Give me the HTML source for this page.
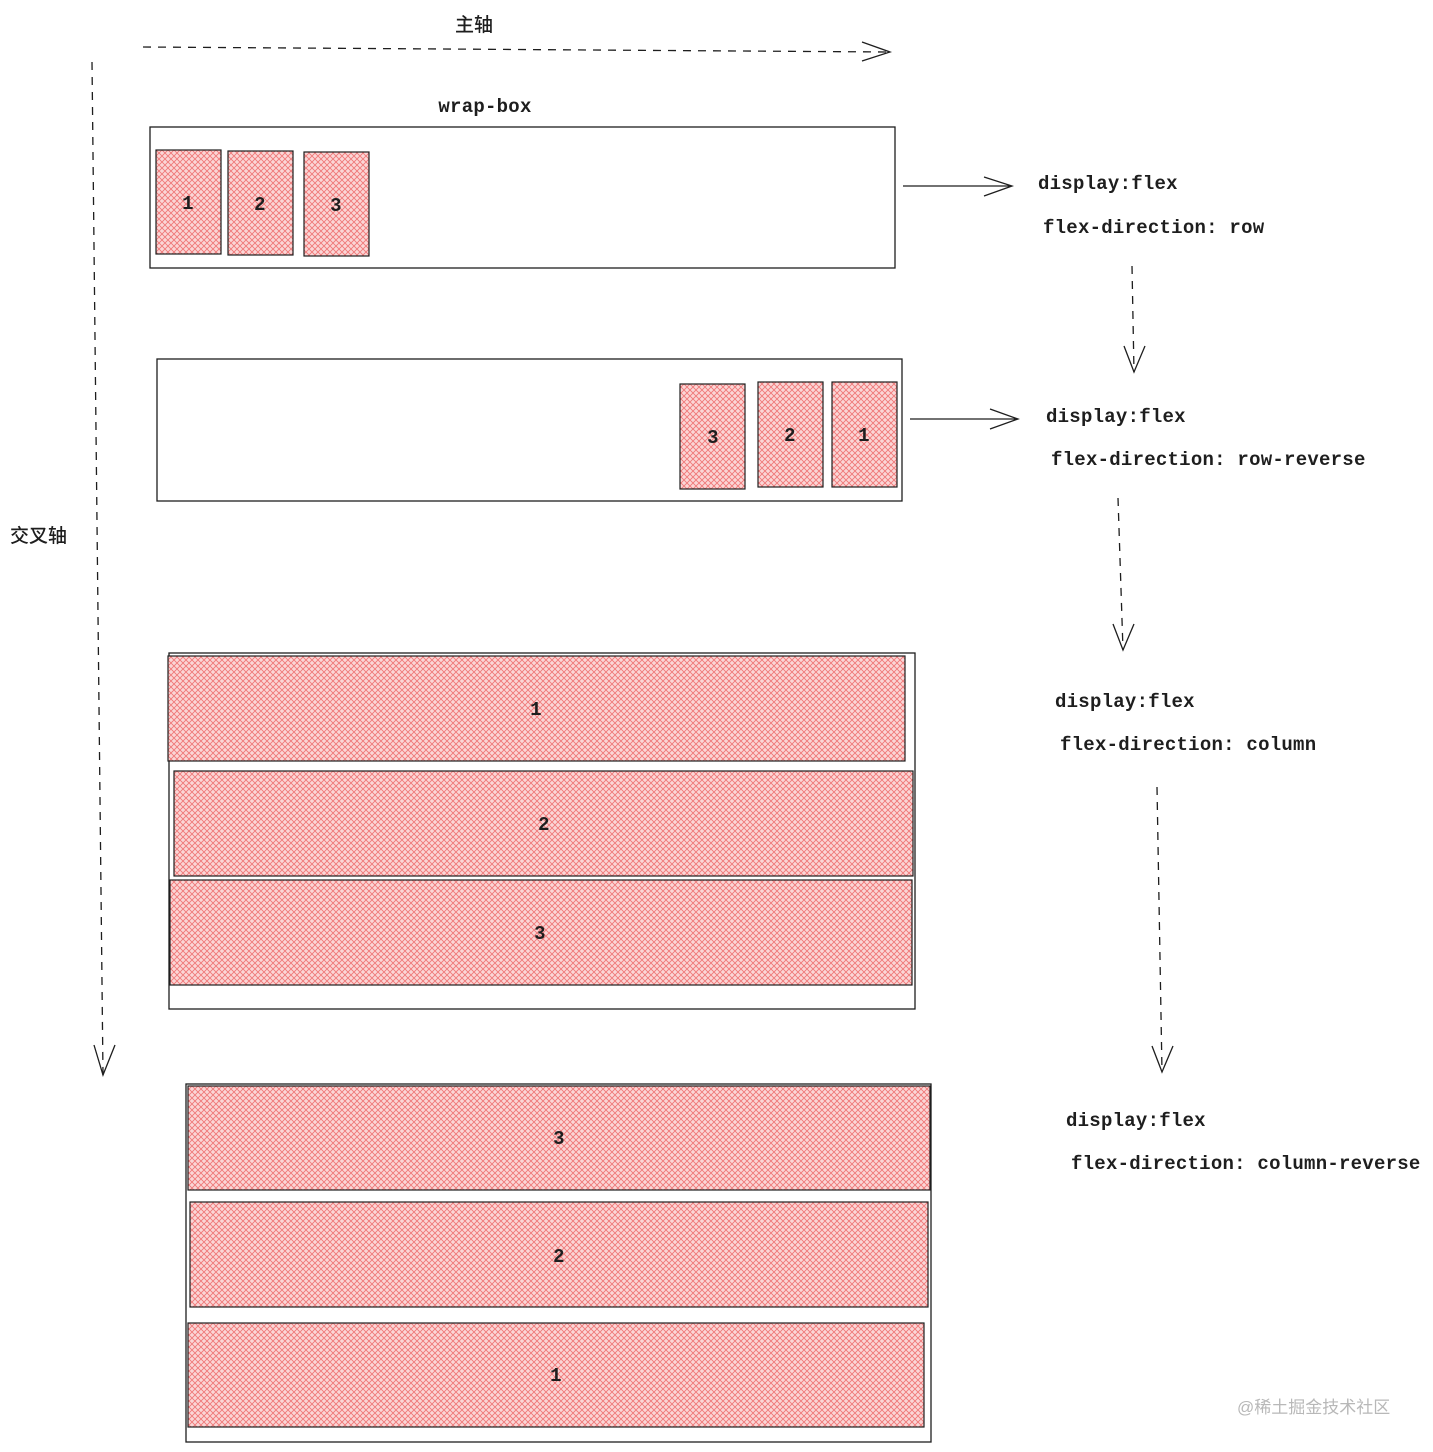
<!DOCTYPE html>
<html><head><meta charset="utf-8"><style>
html,body{margin:0;padding:0;background:#fff;}
svg{display:block}
text{font-family:"Liberation Mono","Noto Sans CJK SC",monospace;font-size:19px;fill:#1e1e1e;font-weight:bold;letter-spacing:0.25px;}
.cj{font-family:"Liberation Sans","Noto Sans CJK SC",sans-serif;font-weight:500;letter-spacing:0;}
</style></head><body>
<svg width="1433" height="1452" viewBox="0 0 1433 1452" xmlns="http://www.w3.org/2000/svg">
<defs>
<pattern id="h" width="6" height="6" patternUnits="userSpaceOnUse">
<rect width="6" height="6" fill="#fbd6d6"/>
<path d="M0 6L6 0M-1 1L1 -1M5 7L7 5" stroke="#f07878" stroke-width="0.9"/>
<path d="M0 0L6 6M-1 5L1 7M5 -1L7 1" stroke="#f07878" stroke-width="0.9"/>
</pattern>
</defs>
<g fill="none" stroke="#1e1e1e" stroke-width="1.3">
<path d="M143 47L890 52" stroke-dasharray="8 7"/>
<path d="M862 42L890 52L862 61"/>
<path d="M92 62L103 1075" stroke-dasharray="8 7"/>
<path d="M94 1045L103 1075L115 1045"/>
<rect x="150" y="127" width="745" height="141"/>
<rect x="157" y="359" width="745" height="142"/>
<rect x="169" y="653" width="746" height="356"/>
<rect x="186" y="1084" width="745" height="358"/>
<path d="M903 186L1012 186M984 177L1012 186L984 196"/>
<path d="M910 419L1018 419M990 409L1018 419L990 429"/>
<path d="M1132 266L1134 372" stroke-dasharray="8 7"/>
<path d="M1124 346L1134 372L1145 346"/>
<path d="M1118 498L1123 650" stroke-dasharray="8 7"/>
<path d="M1113 624L1123 650L1134 624"/>
<path d="M1157 787L1162 1072" stroke-dasharray="8 7"/>
<path d="M1152 1046L1162 1072L1173 1046"/>
</g>
<g fill="url(#h)" stroke="#1e1e1e" stroke-width="1.2">
<rect x="156" y="150" width="65" height="104"/>
<rect x="228" y="151" width="65" height="104"/>
<rect x="304" y="152" width="65" height="104"/>
<rect x="680" y="384" width="65" height="105"/>
<rect x="758" y="382" width="65" height="105"/>
<rect x="832" y="382" width="65" height="105"/>
<rect x="168" y="656" width="737" height="105"/>
<rect x="174" y="771" width="739" height="105"/>
<rect x="170" y="880" width="742" height="105"/>
<rect x="188" y="1086" width="742" height="104"/>
<rect x="190" y="1202" width="738" height="105"/>
<rect x="188" y="1323" width="736" height="104"/>
</g>
<g text-anchor="middle">
<text x="188" y="209">1</text><text x="260" y="210">2</text><text x="336" y="211">3</text>
<text x="713" y="443">3</text><text x="790" y="441">2</text><text x="864" y="441">1</text>
<text x="536" y="715">1</text><text x="544" y="830">2</text><text x="540" y="939">3</text>
<text x="559" y="1144">3</text><text x="559" y="1262">2</text><text x="556" y="1381">1</text>
<text x="485" y="112">wrap-box</text>
</g>
<text class="cj" x="455" y="31">主轴</text>
<text class="cj" x="10" y="542">交叉轴</text>
<text x="1038" y="189">display:flex</text>
<text x="1043" y="233">flex-direction: row</text>
<text x="1046" y="422">display:flex</text>
<text x="1051" y="465">flex-direction: row-reverse</text>
<text x="1055" y="707">display:flex</text>
<text x="1060" y="750">flex-direction: column</text>
<text x="1066" y="1126">display:flex</text>
<text x="1071" y="1169">flex-direction: column-reverse</text>
<text class="cj" x="1237" y="1413" style="font-size:17px;fill:#b8b8b8;font-weight:normal">@稀土掘金技术社区</text>
</svg>
</body></html>
